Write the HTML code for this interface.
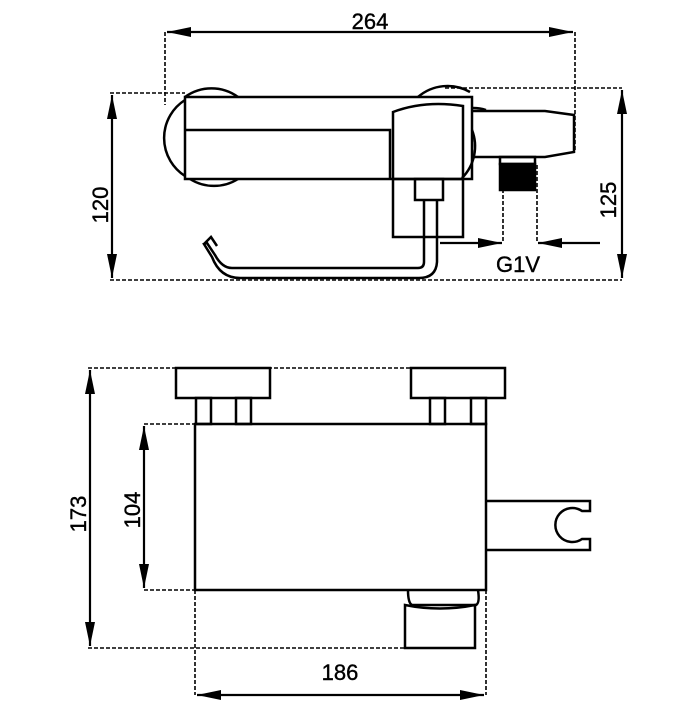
<!DOCTYPE html>
<html><head><meta charset="utf-8"><style>html,body{margin:0;padding:0;background:#fff}</style></head>
<body>
<svg width="700" height="700" viewBox="0 0 700 700" xmlns="http://www.w3.org/2000/svg">
<defs>
<marker id="a" viewBox="0 0 24 10" refX="24" refY="5" markerWidth="24" markerHeight="10" markerUnits="userSpaceOnUse" orient="auto"><path d="M0,0L24,5L0,10z" fill="#000"/></marker>
</defs>
<g fill="none" stroke="#000" stroke-width="1.6" stroke-dasharray="4,2">
<path d="M165,32V105M575,32V150M110,93H185M445,88H622M110,280H622M503,165V243M537,165V243"/>
<path d="M88,368H505M144,424H195M144,590H195M88,648H410M195,590V695M486,590V695"/>
</g>
<g stroke="#000" stroke-width="2.2" fill="none">
<line x1="370" y1="32" x2="167" y2="32" marker-end="url(#a)"/>
<line x1="370" y1="32" x2="573" y2="32" marker-end="url(#a)"/>
<line x1="112" y1="190" x2="112" y2="95" marker-end="url(#a)"/>
<line x1="112" y1="190" x2="112" y2="278" marker-end="url(#a)"/>
<line x1="622" y1="190" x2="622" y2="90" marker-end="url(#a)"/>
<line x1="622" y1="190" x2="622" y2="278" marker-end="url(#a)"/>
<line x1="440" y1="243" x2="502" y2="243" marker-end="url(#a)"/>
<line x1="600" y1="243" x2="538" y2="243" marker-end="url(#a)"/>
<line x1="90" y1="500" x2="90" y2="370" marker-end="url(#a)"/>
<line x1="90" y1="500" x2="90" y2="646" marker-end="url(#a)"/>
<line x1="144" y1="500" x2="144" y2="426" marker-end="url(#a)"/>
<line x1="144" y1="500" x2="144" y2="588" marker-end="url(#a)"/>
<line x1="340" y1="695" x2="197" y2="695" marker-end="url(#a)"/>
<line x1="340" y1="695" x2="484" y2="695" marker-end="url(#a)"/>
</g>
<g stroke="#000" stroke-width="2.5" fill="none">
<!-- top view -->
<path d="M185,100A45,45 0 0 0 185,176"/>
<path d="M185,97A45,45 0 0 1 238,97"/>
<path d="M190,179A45,45 0 0 0 238,179"/>
<path d="M418,97A45,45 0 0 1 470,92"/>
<path d="M472,130A45,45 0 0 1 462,178"/>
<path d="M472,108A40,40 0 0 1 486,110"/>
<rect x="185" y="97" width="287" height="82"/>
<path d="M185,130H390V179"/>
<path d="M393,179V112Q425,100 463,106V179"/>
<rect x="393" y="179" width="70" height="58"/>
<rect x="415" y="179" width="28" height="21"/>
<path d="M472,111H545L574,115V152L545,157H472"/>
<rect x="500" y="157" width="35" height="7"/>
<rect x="500" y="164" width="35" height="26" fill="#000"/>
<path d="M424,200V262Q424,268 418,268H232Q222,268 215,255L207,243L204,244L212,257Q220,278 240,278H419Q436,278 437,262V200"/>
<path d="M204,244L211,237L217,246"/>
<!-- bottom view -->
<rect x="176" y="368" width="94" height="30"/>
<rect x="411" y="368" width="94" height="30"/>
<rect x="196" y="398" width="15" height="26"/>
<rect x="236" y="398" width="15" height="26"/>
<rect x="430" y="398" width="15" height="26"/>
<rect x="471" y="398" width="15" height="26"/>
<rect x="195" y="424" width="291" height="166"/>
<path d="M486,501H590V511H582A17,17 0 1 0 582,539H590V550H486"/>
<path d="M408,590Q408,603 412,605H476Q480,603 478,590"/>
<path d="M405,648V605Q440,612 475,605V648Z"/>
</g>
<g font-family="Liberation Sans, Arial, sans-serif" font-size="22" fill="#000" text-anchor="middle" stroke="#000" stroke-width="0.4">
<text x="370" y="29">264</text>
<text x="518" y="272">G1V</text>
<text x="340" y="680">186</text>
<text transform="translate(108,205) rotate(-90)">120</text>
<text transform="translate(616,200) rotate(-90)">125</text>
<text transform="translate(86,514) rotate(-90)">173</text>
<text transform="translate(140,510) rotate(-90)">104</text>
</g>
</svg>
</body></html>
